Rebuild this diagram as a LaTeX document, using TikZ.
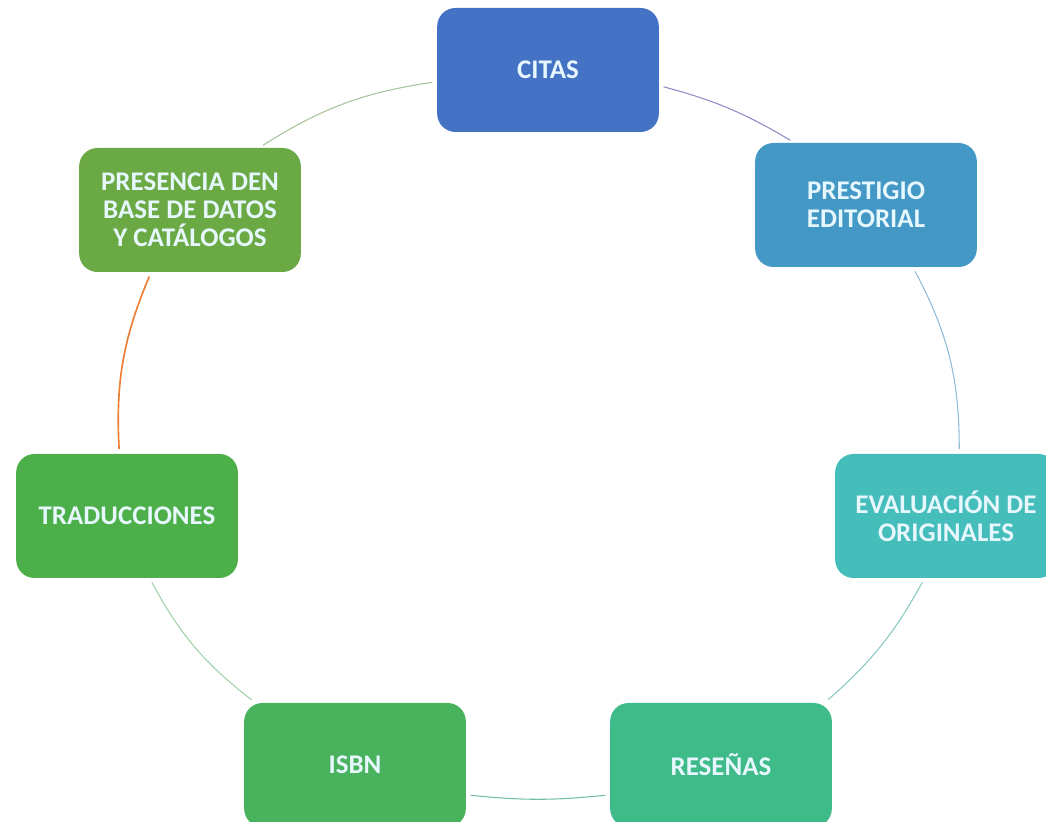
\documentclass[tikz,border=0pt]{standalone}
\usepackage{fontspec}
\setmainfont{Carlito}
\usepackage{tikz}
\usetikzlibrary{positioning}

\definecolor{cCitas}{HTML}{4472C4}
\definecolor{cPrest}{HTML}{4398C6}
\definecolor{cEval}{HTML}{45BDBA}
\definecolor{cResen}{HTML}{3FBA89}
\definecolor{cIsbn}{HTML}{49B25C}
\definecolor{cTrad}{HTML}{4DAF4A}
\definecolor{cPres}{HTML}{6BA944}
\definecolor{cOrange}{HTML}{ED7D31}

\begin{document}
\begin{tikzpicture}[x=0.03cm,y=0.03cm,
		shorten >=0.14cm,shorten <=0.14cm,
		caja/.style={rectangle,rounded corners=0.55cm,minimum width=6.65cm,minimum height=3.72cm,
			text=white!90!cyan,align=center,font=\fontsize{23}{24}\selectfont\bfseries}]
		\useasboundingbox (0,0) rectangle (1046,822);
		\begin{scope}
		\clip (0,0) rectangle (1046,822);
		\node[caja, fill=cCitas] (0) at (548,752) {CITAS};
		\node[caja, fill=cPrest] (1) at (866,617) {PRESTIGIO\\EDITORIAL};
		\node[caja, fill=cEval] (2) at (946,306) {EVALUACIÓN DE\\ORIGINALES};
		\node[caja, fill=cResen] (3) at (721,57) {RESEÑAS};
		\node[caja, fill=cIsbn] (4) at (355,57) {ISBN};
		\node[caja, fill=cTrad] (5) at (127,306) {TRADUCCIONES};
		\node[caja, fill=cPres] (6) at (190,612) {PRESENCIA DEN\\BASE DE DATOS\\Y CATÁLOGOS};
		\path[line width=0.9pt]
		(0.-8.4) edge [bend left=8, draw={rgb,255:red,140;green,140;blue,200}] (1.139.8)
		(1.-53.8) edge [bend left=14, draw={rgb,255:red,141;green,187;blue,216}] (2.78)
		(2.-109) edge [bend left=10, draw={rgb,255:red,136;green,200;blue,192}] (3.31.3)
		(3.195) edge [bend left=6, draw={rgb,255:red,112;green,190;blue,164}] (4.-15.3)
		(4.148) edge [bend left=12, draw={rgb,255:red,160;green,208;blue,168}] (5.-70)
		(5.97.8) edge [bend left=13, draw=cOrange, line width=1.4pt] (6.-122.9)
		(6.42.4) edge [bend left=12, draw={rgb,255:red,168;green,196;blue,154}] (0.186);
		\end{scope}
	\end{tikzpicture}
\end{document}
